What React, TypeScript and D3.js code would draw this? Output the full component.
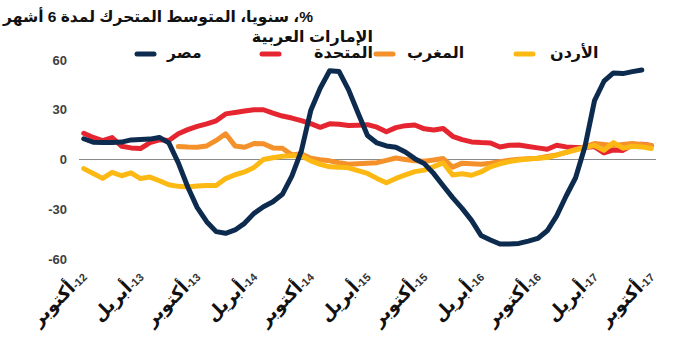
import React from "react";
import * as d3 from "d3";

const W = 691;
const H = 364;

// Monthly categories: Oct 2012 .. Oct 2017
const months: Date[] = d3.timeMonths(new Date(2012, 9, 1), new Date(2017, 10, 1));

const egypt: number[] = [
  12.5, 10.4, 10.2, 10.3, 10.5, 11.8, 12, 12.3, 13.3, 10,
  -2, -16.6, -29, -37.5, -43.5, -44.5, -42.5, -38.5, -32.5, -28.5,
  -25.5, -21, -10, 5, 29.5, 43, 53.5, 53, 42, 28,
  14.5, 10, 8.2, 7.4, 4.5, 0.5, -2.5, -8.5, -15.8, -23,
  -29.5, -36.7, -45.8, -48.5, -51, -51, -50.6, -49.2, -47.6, -43,
  -34, -22, -11, 8, 35.5, 47.2, 52.2, 51.8, 53, 54,
];

const uae: number[] = [
  15.8, 13.3, 11.4, 13.2, 8, 7, 6.6, 10.2, 11.9, 11.5,
  15.5, 18, 20, 21.5, 23.3, 27.5, 28.3, 29.2, 30, 30,
  28, 26.2, 25, 23.4, 21.6, 19.4, 21.5, 21.2, 20.5, 20.7,
  21, 19.5, 16.7, 19.2, 20.4, 20.8, 18.5, 17.8, 18.7, 14,
  12, 10.6, 10.2, 10, 7.5, 8.6, 8.7, 7.8, 7, 6.2,
  8.6, 7.6, 7.2, 7.3, 7.8, 4, 5.8, 5.5, 8.8, 9.2,
  8.4,
];

const morocco: (number | null)[] = [
  null, null, null, null, null, null, null, null, null, null,
  7.8, 7.5, 7.4, 8.2, 11.5, 15.5, 8.2, 7.4, 9.6, 9.5,
  7, 6.8, 2.8, 3.5, 0.8, -0.2, -0.8, -2, -2.9, -2.5,
  -2.2, -1.9, -0.5, 0.9, 0, -0.8, -1.1, -0.3, 0.6, -4.6,
  -2.2, -2.5, -2.9, -2.2, -1.3, -0.4, 0.1, 0.4, 0.8, 1.8,
  2.8, 4.3, 6.1, 7.8, 9.6, 9, 8.4, 9, 9.6, 9,
  8.4,
];

const jordan: number[] = [
  -5.5, -8.4, -11.4, -7.8, -9.8, -8, -11.5, -10.6, -12.8, -15.2,
  -16.2, -16.6, -16, -15.7, -15.7, -11.5, -9.2, -7.5, -4.8, 0,
  1.1, 2, 2.2, 2.3, -0.8, -2.9, -4.4, -4.6, -5, -6.7,
  -8.4, -11.4, -14, -11.4, -9.3, -7.3, -6.4, -4.3, -2, -9.4,
  -8.6, -9.5, -7.5, -4.4, -2.6, -1.3, -0.3, 0.3, 0.8, 1.2,
  2.6, 4.3, 5.7, 7.3, 8.4, 5.6, 10.2, 6.8, 8, 7.6,
  6.6,
];

const yTicks: number[] = [-60, -30, 0, 30, 60];

// x-axis labels every 6 months
const xTickIndex: number[] = [0, 6, 12, 18, 24, 30, 36, 42, 48, 54, 60];
const xTickMonth: string[] = ["أكتوبر", "أبريل", "أكتوبر", "أبريل", "أكتوبر", "أبريل", "أكتوبر", "أبريل", "أكتوبر", "أبريل", "أكتوبر"];
const xTickYear: string[] = ["12", "13", "13", "14", "14", "15", "15", "16", "16", "17", "17"];

// title tokens in reading (right-to-left) order
const titleTokens: string[] = ["%", "،", " ", "سنويا", "،", " ", "المتوسط", " ", "المتحرك", " ", "لمدة", " ", "6", " ", "أشهر"];
const uaeLine1Tokens: string[] = ["الإمارات", " ", "العربية"];

const COLORS = {
  egypt: "#0d2b4e",
  uae: "#e52631",
  morocco: "#f5912a",
  jordan: "#fdb913",
};

const LRM = "\u200E";
const FONT = "'Liberation Sans', Arial, 'DejaVu Sans', sans-serif";

let _canvas: HTMLCanvasElement | null = null;
function measure(text: string, size: number): number {
  if (!_canvas) _canvas = document.createElement("canvas");
  const ctx = _canvas.getContext("2d")!;
  ctx.font = `bold ${size}px ${FONT}`;
  return ctx.measureText(text).width;
}

// lay tokens out right-to-left starting at the right edge
function layoutRTL(tokens: string[], size: number, rightEdge: number) {
  let pos = rightEdge;
  return tokens.map((t) => {
    const w = measure(t, size);
    pos -= w;
    return { t, x: pos };
  });
}

export default function App() {
  const x = d3
    .scaleBand<number>()
    .domain(months.map((_, i) => i))
    .range([79, 656]);
  const xc = (i: number) => (x(i) as number) + x.bandwidth() / 2;
  const y = d3.scaleLinear().domain([-60, 60]).range([259, 60]);

  const line = d3
    .line<number | null>()
    .defined((d) => d !== null)
    .x((_, i) => xc(i))
    .y((d) => y(d as number));

  const series = [
    { key: "uae", data: uae as (number | null)[], color: COLORS.uae },
    { key: "morocco", data: morocco, color: COLORS.morocco },
    { key: "jordan", data: jordan as (number | null)[], color: COLORS.jordan },
    { key: "egypt", data: egypt as (number | null)[], color: COLORS.egypt },
  ];

  const titleSize = 15.5;
  const titleLayout = layoutRTL(titleTokens, titleSize, 313);
  const uaeLayout = layoutRTL(uaeLine1Tokens, 16, 373);

  const legendLine = (x1: number, x2: number, yy: number, color: string) => (
    <line x1={x1} x2={x2} y1={yy} y2={yy} stroke={color} strokeWidth={5} strokeLinecap="round" />
  );

  return (
    <svg
      width={W}
      height={H}
      viewBox={`0 0 ${W} ${H}`}
      style={{ position: "absolute", left: 0, top: 0, background: "#fff" }}
      fontFamily={FONT}
    >
      <rect x={0} y={0} width={W} height={H} fill="#fff" />
      {/* Title */}
      {titleLayout.map((tk, i) =>
        tk.t === " " ? null : (
          <text key={i} x={tk.x} y={22} fontSize={titleSize} fontWeight="bold" fill="#111">
            {tk.t}
          </text>
        )
      )}

      {/* Legend */}
      {legendLine(137, 154, 54, COLORS.egypt)}
      <text x={167} y={58} fontSize={15.5} fontWeight="bold" fill="#111">مصر</text>

      {legendLine(262, 279, 54, COLORS.uae)}
      {uaeLayout.map((tk, i) =>
        tk.t === " " ? null : (
          <text key={i} x={tk.x} y={42} fontSize={16} fontWeight="bold" fill="#111">
            {tk.t}
          </text>
        )
      )}
      <text x={373} y={58} fontSize={16} fontWeight="bold" fill="#111" textAnchor="end">المتحدة</text>

      {legendLine(376, 393, 54, COLORS.morocco)}
      <text x={407} y={58} fontSize={16} fontWeight="bold" fill="#111">المغرب</text>

      {legendLine(516, 533, 54, COLORS.jordan)}
      <text x={550} y={58} fontSize={16} fontWeight="bold" fill="#111">الأردن</text>

      {/* Y tick labels */}
      {yTicks.map((t) => (
        <text key={t} x={67} y={y(t)} dy="0.35em" textAnchor="end" fontSize={13} fontWeight="bold" fill="#404040">
          {t}
        </text>
      ))}

      {/* zero line */}
      <line x1={79} x2={656} y1={y(0)} y2={y(0)} stroke="#8a8a8a" strokeWidth={1} />

      {/* Series */}
      {series.map((s) => (
        <path
          key={s.key}
          d={line(s.data) || ""}
          fill="none"
          stroke={s.color}
          strokeWidth={5}
          strokeLinejoin="round"
          strokeLinecap="round"
        />
      ))}

      {/* X tick labels */}
      {xTickIndex.map((idx, k) => (
        <text
          key={k}
          transform={`translate(${xc(idx) + 4},${278}) rotate(-45)`}
          textAnchor="end"
          fontWeight="bold"
          fill="#111"
          direction="ltr"
        >
          <tspan fontSize={18}>{xTickMonth[k]}</tspan>
          <tspan fontSize={11} fill="#333">{LRM + "-" + xTickYear[k]}</tspan>
        </text>
      ))}
    </svg>
  );
}
